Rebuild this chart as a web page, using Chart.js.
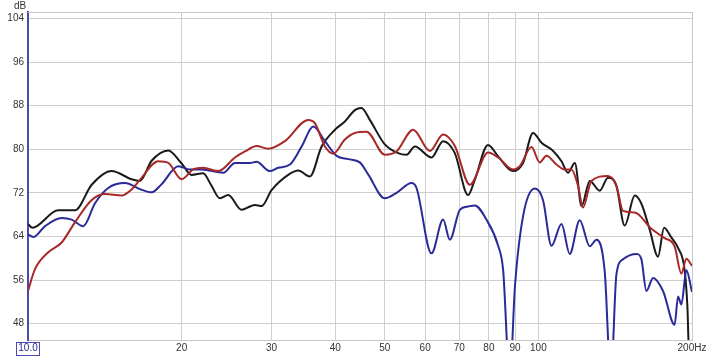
<!DOCTYPE html>
<html>
<head>
<meta charset="utf-8">
<script src="https://cdn.jsdelivr.net/npm/chart.js@4"></script>
<style>
  body { margin: 0; background: #fff; }
  canvas { display: block; }
</style>
</head>
<body>
<canvas id="chart" width="720" height="357"></canvas>
<script>
// Eje X (Hz) y eje Y (dB)
const xTicks = [10, 20, 30, 40, 50, 60, 70, 80, 90, 100, 200];
const xTickLabels = ['10.0', '20', '30', '40', '50', '60', '70', '80', '90', '100', '200Hz'];
const yTicks = [48, 56, 64, 72, 80, 88, 96, 104];

// Curva negra
const blackFreq = [10, 10.2, 11.46, 12.36, 13.33, 14.58, 15.96, 16.57, 17.47, 18.83, 20, 20.92, 22.04, 22.83, 23.77, 24.68, 26.21, 27.22, 27.84, 28.69, 30.01, 32.35, 33.84, 35.67, 37.61, 39.94, 41.77, 43.69, 45.03, 46.75, 50.02, 53.11, 55.16, 57.28, 61.74, 65.07, 68.6, 72.83, 75.06, 79.69, 83.41, 89.2, 93.32, 97.63, 101.4, 106.9, 111, 114.3, 117.9, 121.5, 126.1, 131.9, 136.9, 142.2, 147.6, 154.5, 159.2, 165.3, 171.6, 176.3, 182.3, 187.8, 193.5, 195.9, 197.5, 200];
const blackDb = [66.3, 65.6, 68.8, 68.8, 73.5, 76.0, 74.5, 74.2, 77.9, 79.8, 77.4, 75.3, 75.6, 73.5, 71.0, 71.6, 68.9, 69.5, 69.8, 69.6, 72.5, 75.3, 76.1, 75.0, 80.5, 83.6, 85.1, 87.2, 87.6, 85.4, 80.9, 79.3, 79.0, 80.5, 78.5, 81.5, 79.3, 71.6, 74.4, 80.8, 78.7, 76.0, 77.5, 83.0, 81.2, 79.7, 77.8, 75.7, 77.5, 69.6, 74.2, 72.4, 74.8, 73.3, 66.0, 71.5, 70.0, 65.2, 60.3, 65.6, 63.8, 61.9, 57.8, 51.1, 42, 44];

// Curva roja
const redFreq = [10, 10.32, 10.96, 11.64, 12.36, 13.33, 14.15, 15.26, 15.96, 16.57, 17.99, 18.83, 20, 21.07, 22.04, 23.59, 25.44, 26.61, 28.04, 29.56, 31.87, 35.4, 36.48, 38.18, 39.63, 41.77, 43.69, 46.06, 50.02, 52.73, 56.84, 61.28, 65.07, 68.6, 73.4, 79.69, 83.41, 89.2, 91.96, 96.94, 100.6, 103.7, 108.5, 112.6, 116.1, 119.6, 122.3, 127, 136.9, 142.2, 146.5, 154.5, 166.5, 176.8, 184.9, 190.6, 195, 200];
const redDb = [54.0, 58.0, 61.1, 62.9, 66.6, 70.7, 71.8, 71.5, 72.6, 74.4, 77.8, 77.5, 74.5, 76.3, 76.6, 76.0, 78.5, 79.6, 80.6, 80.1, 81.5, 85.4, 84.8, 80.5, 79.2, 81.8, 83.0, 83.2, 79.0, 79.6, 83.6, 79.7, 82.7, 80.6, 73.5, 79.4, 78.5, 76.3, 76.9, 80.4, 77.6, 78.8, 77.2, 76.3, 76.3, 73.3, 69.3, 74.2, 75.1, 73.3, 68.7, 68.4, 65.4, 63.7, 62.2, 57.2, 59.9, 58.6];

// Curva azul
const blueFreq = [10, 10.24, 10.8, 11.64, 12.18, 12.83, 13.53, 14.36, 15.49, 16.57, 17.47, 18.27, 19.7, 20.76, 21.89, 24.13, 25.44, 27.22, 28.04, 29.78, 30.92, 32.6, 34.36, 36.22, 38.18, 40.24, 42.4, 44.69, 46.4, 50.02, 52.73, 56.43, 57.71, 61.74, 65.07, 67.07, 70.16, 72.83, 75.06, 79.1, 83.41, 85.29, 87.9, 90, 93.32, 98.4, 102.1, 106.1, 111, 115.2, 120.5, 126.1, 130, 134.9, 138.7, 142.2, 146.5, 155.8, 159.2, 162.8, 167.8, 175.5, 184.9, 187.8, 190.6, 195, 200];
const blueDb = [64.4, 63.9, 65.9, 67.4, 67.1, 65.9, 70.1, 72.9, 73.8, 72.7, 72.1, 73.6, 76.9, 76.3, 76.3, 75.7, 77.5, 77.5, 77.7, 76.0, 76.6, 77.2, 80.5, 84.2, 81.5, 78.8, 78.2, 77.6, 75.4, 71.0, 72.0, 73.8, 72.9, 60.9, 67.1, 63.4, 68.9, 69.5, 69.7, 67.1, 62.3, 57.9, 38, 55.0, 67.7, 72.8, 70.7, 62.3, 66.3, 60.8, 67.0, 62.2, 63.4, 57.6, 38, 57.0, 59.8, 60.8, 59.8, 54.0, 56.4, 54.0, 47.8, 53.0, 51.5, 57.8, 53.8];

function toPoints(freqs, values) {
    return freqs.map((f, i) => ({ x: f, y: values[i] }));
}

// Marco, etiqueta dB y caja del 10.0
const decorPlugin = {
    id: 'decor',
    afterDraw(chart) {
        const ctx = chart.ctx;
        const area = chart.chartArea;
        ctx.save();
        ctx.strokeStyle = '#c8c8c8';
        ctx.lineWidth = 1;
        ctx.beginPath();
        ctx.moveTo(area.left, area.top + 0.5);
        ctx.lineTo(area.right + 0.5, area.top + 0.5);
        ctx.lineTo(area.right + 0.5, area.bottom);
        ctx.stroke();

        ctx.fillStyle = '#333';
        ctx.font = '10px "Liberation Sans", Arial, sans-serif';
        ctx.textAlign = 'left';
        ctx.textBaseline = 'middle';
        ctx.fillText('dB', 14, 6);

        ctx.strokeStyle = '#4a4ab0';
        ctx.strokeRect(16.5, 342.5, 23, 13);
        ctx.restore();
    }
};

new Chart(document.getElementById('chart'), {
    type: 'line',
    data: {
        datasets: [{
            label: 'Rojo',
            data: toPoints(redFreq, redDb),
            borderColor: '#a82828',
            borderWidth: 2,
            pointRadius: 0,
            cubicInterpolationMode: 'monotone'
        }, {
            label: 'Azul',
            data: toPoints(blueFreq, blueDb),
            borderColor: '#2a2a98',
            borderWidth: 2,
            pointRadius: 0,
            cubicInterpolationMode: 'monotone'
        }, {
            label: 'Negro',
            data: toPoints(blackFreq, blackDb),
            borderColor: '#1a1a1a',
            borderWidth: 2,
            pointRadius: 0,
            cubicInterpolationMode: 'monotone'
        }]
    },
    options: {
        responsive: false,
        devicePixelRatio: 1,
        animation: false,
        layout: { padding: { top: 12, right: 28, left: 0, bottom: 0 } },
        plugins: {
            legend: { display: false },
            tooltip: { enabled: false }
        },
        scales: {
            x: {
                type: 'logarithmic',
                min: 10,
                max: 200,
                afterBuildTicks(scale) {
                    scale.ticks = xTicks.map(v => ({ value: v }));
                },
                afterFit(scale) { scale.height = 17; },
                ticks: {
                    autoSkip: false,
                    maxRotation: 0,
                    padding: 2,
                    font: { family: '"Liberation Sans", Arial, sans-serif', size: 10 },
                    color: ctx => ctx.index === 0 ? '#2a2a98' : '#333',
                    callback: (value, index) => xTickLabels[index]
                },
                grid: { color: '#cfcfcf', lineWidth: 1, drawTicks: false },
                border: { color: '#c8c8c8' }
            },
            y: {
                min: 45,
                max: 105.2,
                afterBuildTicks(scale) {
                    scale.ticks = yTicks.map(v => ({ value: v }));
                },
                afterFit(scale) { scale.width = 28; },
                ticks: {
                    padding: 4,
                    font: { family: '"Liberation Sans", Arial, sans-serif', size: 10 },
                    color: '#333'
                },
                grid: { color: '#cfcfcf', lineWidth: 1, drawTicks: false },
                border: { color: '#4a4ab0', width: 2 }
            }
        }
    },
    plugins: [decorPlugin]
});
</script>
</body>
</html>
